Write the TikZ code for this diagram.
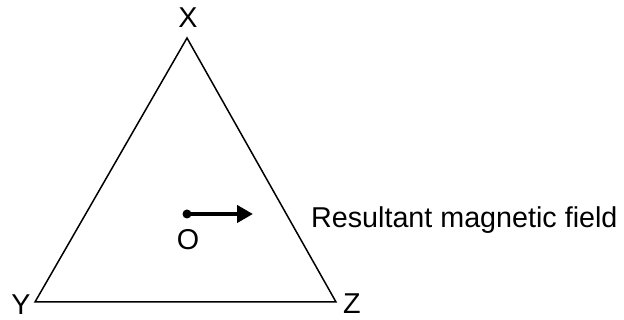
\documentclass[tikz,border=0pt]{standalone}
\usepackage{fontspec}
\setmainfont{Liberation Sans}
\usepackage{tikz}
\usetikzlibrary{arrows.meta,positioning}
\tikzset{
  vlabel/.style={inner sep=0pt,font=\fontsize{28.7}{34}\selectfont},
  side/.style={line width=1.5pt,line join=miter}
}

\begin{document}
\begin{tikzpicture}[x=1pt,y=1pt]
  \useasboundingbox (0,0) rectangle (624,320);
  % triangle corners
  \coordinate (cx) at (187,282);
  \coordinate (cy) at (35,18);
  \coordinate (cz) at (336,18);
  \draw[side] (cx) -- (cy) -- (cz) -- cycle;
  \node[vlabel] (lx) at (188,302) {X};
  \node[vlabel] (ly) at (21,15) {Y};
  \node[vlabel] (lz) at (352,16) {Z};
  % field at O
  \node[circle,fill,inner sep=0pt,minimum size=9pt] (o) at (187,106) {};
  \coordinate (tip) at (253,106);
  \draw[-{Triangle[length=16pt,width=17pt]},line width=4pt] (o.center) -- (tip);
  \node[vlabel] (lo) at (188,80) {O};
  \node[vlabel,anchor=base west] (res) at (311,92) {Resultant magnetic field};
\end{tikzpicture}
\end{document}
